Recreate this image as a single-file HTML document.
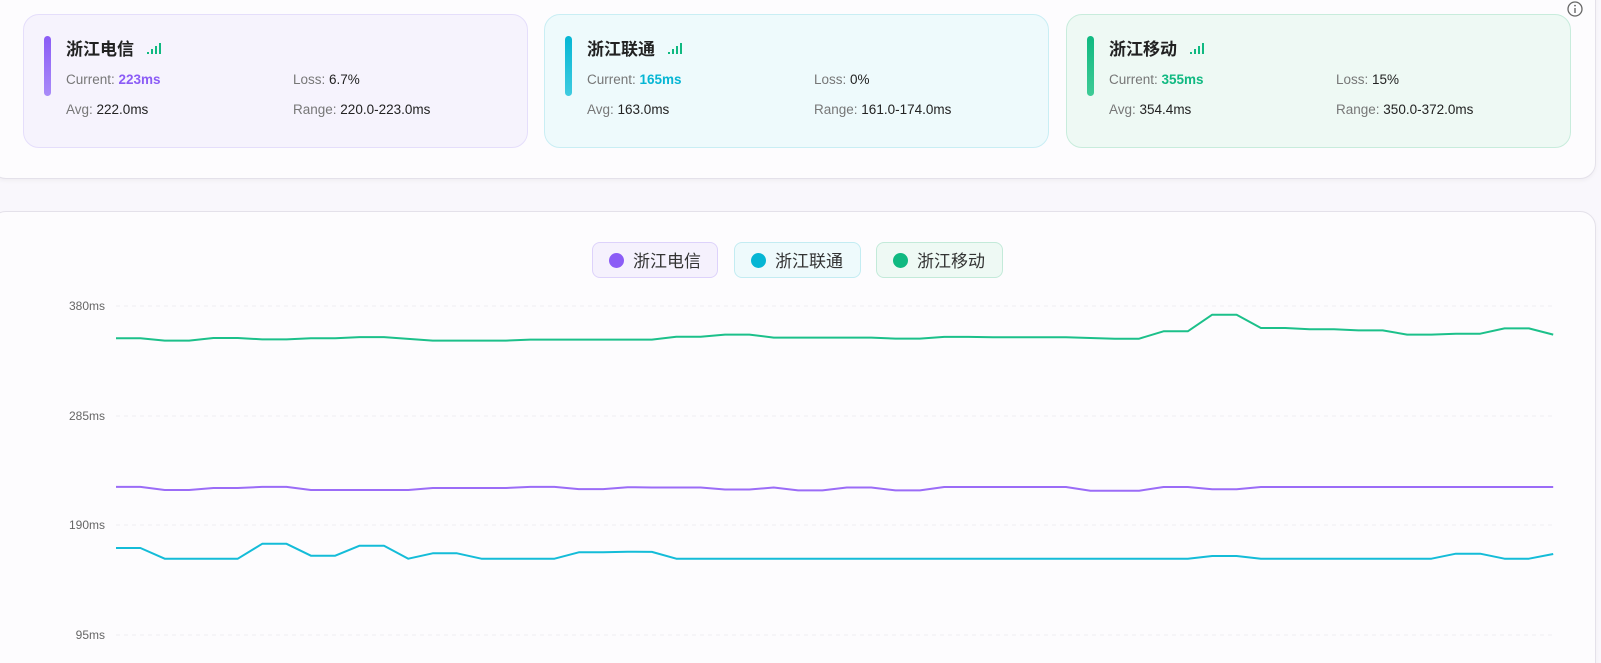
<!DOCTYPE html>
<html><head><meta charset="utf-8">
<style>
*{margin:0;padding:0;box-sizing:border-box}
html,body{width:1601px;height:663px;overflow:hidden}
body{background:#f9f7fc;font-family:"Liberation Sans","Noto Sans CJK SC",sans-serif;position:relative}
#wrap{position:absolute;left:0;top:0;width:1601px;height:663px;overflow:hidden}
.panel{position:absolute;background:#fdfcfe;border:1px solid #e4e1ea;border-radius:16px;box-shadow:0 2px 4px rgba(0,0,0,0.04)}
.card{position:absolute;top:14px;height:134px;width:505px;border-radius:16px;border:1px solid}
.bar{position:absolute;left:20px;top:21px;width:7px;height:60px;border-radius:4px}
.title{position:absolute;left:42px;top:22px;font-size:17px;font-weight:bold;color:#222;font-family:"Noto Sans CJK SC",sans-serif;line-height:22px}
.sig{position:absolute;left:123px;top:28px}
.t{position:absolute;font-size:13.5px;color:#777;line-height:16px;white-space:nowrap}
.t b{font-weight:normal;color:#222}
.t strong{font-weight:bold}
.leg{position:absolute;top:242px;height:36px;border-radius:8px;border:1px solid;font-size:17px;color:#333;font-family:"Noto Sans CJK SC",sans-serif;line-height:34px;padding-left:40px}
.leg i{position:absolute;left:16px;top:10px;width:15px;height:15px;border-radius:50%}
</style></head><body><div id="wrap">
<div class="panel" style="left:-10px;top:-20px;width:1606px;height:199px"></div>
<div class="panel" style="left:-10px;top:211px;width:1606px;height:480px"></div>
<svg style="position:absolute;left:1567px;top:1px" width="16" height="16"><circle cx="8" cy="8" r="7" fill="none" stroke="#666" stroke-width="1.3"/><line x1="8" y1="7" x2="8" y2="12" stroke="#666" stroke-width="1.4"/><circle cx="8" cy="4.6" r="0.9" fill="#666"/></svg>

<div class="card" style="left:23px;background:#f6f3fd;border-color:#e5defb">
<div class="bar" style="background:linear-gradient(#8b5cf6,#a98bf8)"></div>
<div class="title">浙江电信</div>
<svg class="sig" width="16" height="11"><rect x="0" y="9" width="2" height="2" fill="#10b981"/><rect x="4" y="6" width="2" height="5" fill="#10b981"/><rect x="8" y="3" width="2" height="8" fill="#10b981"/><rect x="12" y="0" width="2" height="11" fill="#10b981"/></svg>
<div class="t" style="left:42px;top:57px">Current: <strong style="color:#8b5cf6">223ms</strong></div>
<div class="t" style="left:269px;top:57px">Loss: <b>6.7%</b></div>
<div class="t" style="left:42px;top:87px">Avg: <b>222.0ms</b></div>
<div class="t" style="left:269px;top:87px">Range: <b>220.0-223.0ms</b></div>
</div>

<div class="card" style="left:544px;background:#eefafc;border-color:#c9eef4">
<div class="bar" style="background:linear-gradient(#06b6d4,#3fcbe0)"></div>
<div class="title">浙江联通</div>
<svg class="sig" width="16" height="11"><rect x="0" y="9" width="2" height="2" fill="#10b981"/><rect x="4" y="6" width="2" height="5" fill="#10b981"/><rect x="8" y="3" width="2" height="8" fill="#10b981"/><rect x="12" y="0" width="2" height="11" fill="#10b981"/></svg>
<div class="t" style="left:42px;top:57px">Current: <strong style="color:#06b6d4">165ms</strong></div>
<div class="t" style="left:269px;top:57px">Loss: <b>0%</b></div>
<div class="t" style="left:42px;top:87px">Avg: <b>163.0ms</b></div>
<div class="t" style="left:269px;top:87px">Range: <b>161.0-174.0ms</b></div>
</div>

<div class="card" style="left:1066px;background:#eef9f4;border-color:#c8ecdc">
<div class="bar" style="background:linear-gradient(#10b981,#3fcb96)"></div>
<div class="title">浙江移动</div>
<svg class="sig" width="16" height="11"><rect x="0" y="9" width="2" height="2" fill="#10b981"/><rect x="4" y="6" width="2" height="5" fill="#10b981"/><rect x="8" y="3" width="2" height="8" fill="#10b981"/><rect x="12" y="0" width="2" height="11" fill="#10b981"/></svg>
<div class="t" style="left:42px;top:57px">Current: <strong style="color:#10b981">355ms</strong></div>
<div class="t" style="left:269px;top:57px">Loss: <b>15%</b></div>
<div class="t" style="left:42px;top:87px">Avg: <b>354.4ms</b></div>
<div class="t" style="left:269px;top:87px">Range: <b>350.0-372.0ms</b></div>
</div>

<div class="leg" style="left:592px;width:126px;background:#f5f1fd;border-color:#ddd2fb"><i style="background:#8b5cf6"></i>浙江电信</div>
<div class="leg" style="left:734px;width:127px;background:#eefafc;border-color:#c3ecf2"><i style="background:#06b6d4"></i>浙江联通</div>
<div class="leg" style="left:876px;width:127px;background:#eef9f4;border-color:#c3ead9"><i style="background:#10b981"></i>浙江移动</div>

<svg id="ch" style="position:absolute;left:0;top:0" width="1601" height="663">
<g font-size="12" fill="#666" text-anchor="end" font-family="Liberation Sans,sans-serif">
<text x="105" y="310">380ms</text><text x="105" y="420">285ms</text><text x="105" y="529">190ms</text><text x="105" y="639">95ms</text>
</g>
<g stroke="#f0eef3" stroke-dasharray="4 4" stroke-width="1">
<line x1="116" x2="1553" y1="306" y2="306"/><line x1="116" x2="1553" y1="416" y2="416"/><line x1="116" x2="1553" y1="525" y2="525"/><line x1="116" x2="1553" y1="635" y2="635"/>
</g>
</svg>
</div>
<script>
var g=[352,352,350,350,352.3,352.3,351.1,351.1,352,352,353.1,353.1,351.5,350,350,350,350,350.9,350.9,350.9,350.9,350.9,350.9,353.3,353.3,355.2,355.2,352.6,352.6,352.6,352.6,352.6,351.8,351.8,353.2,353.2,352.9,352.9,352.9,352.9,352.3,351.7,351.7,358.1,358.1,372.5,372.5,360.9,360.9,359.8,359.8,358.9,358.9,355.2,355.2,356,356,360.6,360.6,355.2];
var p=[223.3,223.3,220.6,220.6,222.3,222.3,223.3,223.3,220.6,220.6,220.6,220.6,220.6,222.3,222.3,222.3,222.3,223.3,223.3,221.4,221.4,223,222.8,222.8,222.8,221,221,222.8,220.3,220.3,222.8,222.8,220.3,220.3,223.2,223.2,223.2,223.2,223.2,223.2,220,220,220,223.2,223.2,221.2,221.2,223.2,223.2,223.2,223.2,223.2,223.2,223.2,223.2,223.2,223.2,223.2,223.2,223.2];
var c=[170.4,170.4,161.1,161.1,161.1,161.1,174,174,163.7,163.7,172.4,172.4,161.1,165.8,165.8,161.1,161.1,161.1,161.1,166.6,166.6,167.2,167,161.1];
while(c.length<45)c.push(161.1);
c=c.concat([163.4,163.4,161.1,161.1,161.1,161.1,161.1,161.1,161.1,161.1,165.4,165.4,161.1,161.1,165.2]);
function path(a,col){var d='';for(var i=0;i<a.length;i++){var x=116+i*24.36,y=306+(380-a[i])*1.1544;d+=(i?'L':'M')+x.toFixed(1)+' '+y.toFixed(1)}
var e=document.createElementNS('http://www.w3.org/2000/svg','path');e.setAttribute('d',d);e.setAttribute('fill','none');e.setAttribute('stroke',col);e.setAttribute('stroke-width','2');e.setAttribute('stroke-linejoin','round');document.getElementById('ch').appendChild(e)}
path(g,'#1cc08a');path(p,'#9b6cf7');path(c,'#14bcd8');
</script>
</body></html>
